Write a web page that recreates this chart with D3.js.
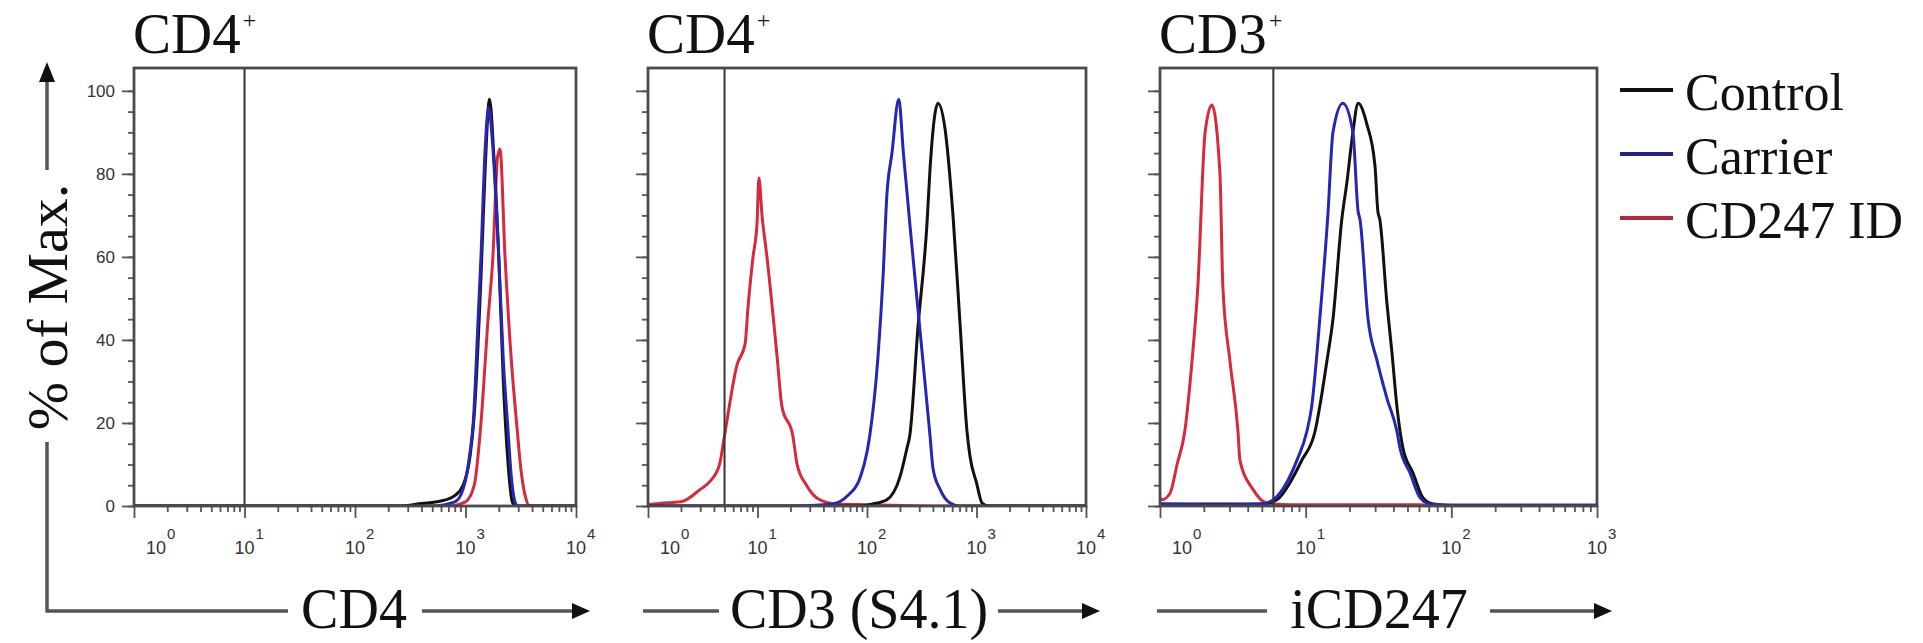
<!DOCTYPE html>
<html lang="en">
<head>
    <meta charset="UTF-8">
    <script src="https://d3js.org/d3.v7.min.js"></script>
    <title>CD247 histograms</title>
    <style>
      body { margin: 0; background: #fff; }
      #container { width: 1923px; height: 643px; }
    </style>
</head>
<body>
    <div id="container"></div>
</body>
<script>
    // titles, axis names, legend
    var panelTitles = ["CD4", "CD4", "CD3"];
    var axisLabels = ["CD4", "CD3 (S4.1)", "iCD247"];
    var seriesNames = ["Control", "Carrier", "CD247 ID"];
    var xMaxExp = [4, 4, 3];           // last decade of each x axis
    var gateValues = [10, 5, 6];       // vertical gate line
    var yTicks = [0, 20, 40, 60, 80, 100];

    // panel 1 : CD4 (intensity, % of max)
    var cd4Control = [[1,0],[250,0],[400,0.6],[600,1.2],[800,2.5],[950,5],[1100,12],[1200,22],[1380,55],[1500,80],[1650,98],[1800,85],[2000,60],[2200,30],[2400,12],[2650,1],[2800,0],[10000,0]];
    var cd4Carrier = [[1,0],[500,0],[800,1],[950,4],[1100,13],[1175,20],[1300,45],[1380,60],[1500,85],[1620,96],[1750,88],[2000,60],[2200,35],[2400,20],[2600,7],[2850,0.5],[3000,0],[10000,0]];
    var cd4Id = [[1,0],[700,0],[1000,1],[1200,5],[1380,20],[1600,45],[1770,60],[1950,84],[2050,86],[2280,60],[2600,35],[2900,20],[3200,8],[3500,2],[3800,0],[10000,0]];

    // panel 2 : CD3 (S4.1)
    var cd3Control = [[1,0],[80,0],[113,0.5],[152,1.5],[200,7],[232,14],[246,17],[292,43],[353,68],[376,81],[445,97],[515,91],[610,70],[707,44],[819,18],[872,12],[1000,5.6],[1125,0.7],[1300,0],[10000,0]];
    var cd3Carrier = [[1,0],[20,0],[40,0.3],[49,0.5],[66,2.4],[87,7],[100,13],[106,17],[126,36],[140,55],[152,75],[169,85],[195,98],[215,85],[246,68],[303,43],[376,17],[401,9],[465,4],[574,0.7],[700,0],[10000,0]];
    var cd3Id = [[1,0.3],[1.5,0.8],[2,1],[3,4],[3.7,6],[4.5,10],[5,17],[6.5,34],[7.7,39],[8.2,48],[9.1,60],[9.9,68],[10.3,79],[11,70],[12.2,60],[15.1,36],[16.7,24],[21,17],[23,10],[28,5],[37,1.5],[53,0.5],[100,0.3],[600,0],[10000,0]];

    // panel 3 : iCD247
    var zetaControl = [[1,0.5],[5,0.5],[6.35,1.5],[7.8,5.6],[9.4,11],[11.6,18],[12.5,24],[14,35],[15.4,45],[17.7,69],[19.2,78],[21.1,90],[22.9,97],[26.3,92],[29.9,82],[31.3,71],[32.3,69],[36.1,49],[39.1,37],[42.3,24],[46.5,14],[54.5,8],[63.8,2],[74.8,0.5],[100,0.2],[1000,0.2]];
    var zetaCarrier = [[1,0.5],[3,0.3],[5,0.5],[6,1.5],[7.4,5.6],[8.7,11],[10.2,18],[11,24],[12.5,45],[14.2,70],[15.4,90],[18,97],[21.1,90],[22.9,71],[23.6,69],[26.8,45],[30.9,35],[36.1,26],[42.3,18],[44.4,14],[52,8],[61,2],[71,0.5],[100,0.2],[1000,0.2]];
    var zetaId = [[1,2],[1.03,1.5],[1.17,3],[1.31,10],[1.48,18],[1.66,35],[1.82,53],[2.04,90],[2.27,96.6],[2.58,80],[2.7,53],[3.02,35],[3.43,18],[3.54,11],[4.35,4],[5.4,0.7],[8,0.3],[60,0.3],[100,0],[1000,0]];

    var panelSeries = [
        [cd4Id, cd4Control, cd4Carrier],
        [cd3Id, cd3Control, cd3Carrier],
        [zetaId, zetaControl, zetaCarrier]
    ];
    var drawOrder = ["CD247 ID", "Control", "Carrier"];

    // styles / layout
    var color = {"Control": "#111111", "Carrier": "#2626b4", "CD247 ID": "#d62a3c"};
    var legendColor = {"Control": "#111111", "Carrier": "#242488", "CD247 ID": "#b4283a"};
    var frames = [{left: 134, right: 576}, {left: 648, right: 1086}, {left: 1160, right: 1597}];
    var plotTop = 68, plotBottom = 506, yMax = 105.5;
    var arrows = [
        {from: 47, lineEnd: 288, textX: 354, lineStart: 422, tip: 590},
        {from: 643, lineEnd: 719, textX: 859, lineStart: 998, tip: 1100},
        {from: 1157, lineEnd: 1267, textX: 1379, lineStart: 1490, tip: 1612}
    ];
    var arrowY = 611;
    var serif = "'Liberation Serif', 'Times New Roman', serif";
    var sans = "'Liberation Sans', Arial, sans-serif";

    var svg = d3.select('#container')
                .append("svg")
                .attr("width", 1923)
                .attr("height", 643);

    var defs = svg.append("defs");

    panelSeries.forEach(function(series, i) {
        var L = frames[i].left, R = frames[i].right;
        var x = d3.scaleLog().domain([1, Math.pow(10, xMaxExp[i])]).range([L, R]);
        var y = d3.scaleLinear().domain([0, yMax]).range([plotBottom, plotTop]);
        var g = svg.append("g");

        // minor / major ticks
        var decades = d3.range(0, xMaxExp[i] + 1).map(function(e){ return Math.pow(10, e); });
        var minor = [];
        d3.range(0, xMaxExp[i]).forEach(function(e){
            for (var m = 2; m < 10; m++) minor.push(m * Math.pow(10, e));
        });
        var xMinor = g.append("g").attr("transform", "translate(0," + plotBottom + ")")
            .call(d3.axisBottom(x).tickValues(minor).tickSize(6).tickFormat(""));
        var xMajor = g.append("g").attr("transform", "translate(0," + plotBottom + ")")
            .call(d3.axisBottom(x).tickValues(decades).tickSize(12).tickFormat(""));

        var yMinorVals = d3.range(0, 101, 5);
        var yMinor = g.append("g").attr("transform", "translate(" + L + ",0)")
            .call(d3.axisLeft(y).tickValues(yMinorVals).tickSize(6).tickFormat(""));
        var yMajor = g.append("g").attr("transform", "translate(" + L + ",0)")
            .call(d3.axisLeft(y).tickValues(yTicks).tickSize(12).tickPadding(7)
                .tickFormat(i === 0 ? d3.format("d") : function(){ return ""; }));

        [xMinor, xMajor, yMinor, yMajor].forEach(function(a){
            a.select(".domain").remove();
            a.selectAll(".tick line").attr("stroke", "#555").attr("stroke-width", 1.8);
        });
        yMajor.selectAll(".tick text")
            .style("font-family", sans).style("font-size", "17px").attr("fill", "#333");

        // decade labels 10^n
        decades.forEach(function(v, e) {
            var cx = x(v) + (e === 0 ? 22 : 0);
            var t = g.append("text")
                .attr("x", cx - 10)
                .attr("y", 554)
                .style("font-family", sans)
                .style("font-size", "18px")
                .attr("fill", "#333")
                .text("10");
            t.append("tspan")
                .attr("dx", 1)
                .attr("dy", -15)
                .style("font-size", "15px")
                .text(e);
        });

        // clip + curves
        defs.append("clipPath").attr("id", "clip" + i)
            .append("rect").attr("x", L).attr("y", plotTop).attr("width", R - L).attr("height", plotBottom - plotTop);

        var line = d3.line()
            .x(function(d){ return x(d[0]); })
            .y(function(d){ return y(d[1]); })
            .curve(d3.curveMonotoneX);

        var curves = g.append("g").attr("clip-path", "url(#clip" + i + ")");
        curves.selectAll("path")
            .data(series)
            .enter()
            .append("path")
            .attr("d", line)
            .attr("fill", "none")
            .attr("stroke", function(d, k){ return color[drawOrder[k]]; })
            .attr("stroke-width", 3)
            .attr("stroke-linejoin", "round");

        // gate line
        g.append("line")
            .attr("x1", x(gateValues[i])).attr("x2", x(gateValues[i]))
            .attr("y1", plotTop).attr("y2", plotBottom)
            .attr("stroke", "#333").attr("stroke-width", 2);

        // frame
        g.append("rect")
            .attr("x", L).attr("y", plotTop)
            .attr("width", R - L).attr("height", plotBottom - plotTop)
            .attr("fill", "none").attr("stroke", "#4a4a4a").attr("stroke-width", 2.8);

        // title
        var title = g.append("text")
            .attr("x", L - 1).attr("y", 53)
            .style("font-family", serif).style("font-size", "57px")
            .attr("fill", "#111")
            .text(panelTitles[i]);
        title.append("tspan").attr("dx", 2).attr("dy", -25)
            .style("font-size", "24px").text("+");

        // bottom axis name with arrow
        var a = arrows[i];
        g.append("line").attr("x1", a.from).attr("x2", a.lineEnd)
            .attr("y1", arrowY).attr("y2", arrowY)
            .attr("stroke", "#555").attr("stroke-width", 3.5);
        g.append("line").attr("x1", a.lineStart).attr("x2", a.tip - 14)
            .attr("y1", arrowY).attr("y2", arrowY)
            .attr("stroke", "#555").attr("stroke-width", 3.5);
        g.append("path")
            .attr("d", "M" + a.tip + "," + arrowY + "L" + (a.tip - 18) + "," + (arrowY - 8) +
                       "L" + (a.tip - 18) + "," + (arrowY + 8) + "Z")
            .attr("fill", "#111");
        g.append("text")
            .attr("x", a.textX).attr("y", 628)
            .attr("text-anchor", "middle")
            .style("font-family", serif).style("font-size", "56px")
            .attr("fill", "#111")
            .text(axisLabels[i]);
    });

    // y axis name with arrow
    var ya = svg.append("g");
    ya.append("line").attr("x1", 47).attr("x2", 47).attr("y1", arrowY + 1.5).attr("y2", 442)
        .attr("stroke", "#555").attr("stroke-width", 3.5);
    ya.append("line").attr("x1", 47).attr("x2", 47).attr("y1", 170).attr("y2", 80)
        .attr("stroke", "#555").attr("stroke-width", 3.5);
    ya.append("path").attr("d", "M47,62L39,82L55,82Z").attr("fill", "#111");
    ya.append("text")
        .attr("transform", "translate(67,307) rotate(-90)")
        .attr("text-anchor", "middle")
        .style("font-family", serif).style("font-size", "58px")
        .attr("fill", "#111")
        .text("% of Max.");

    // legend
    var legend = svg.append("g").selectAll("g")
        .data(seriesNames)
        .enter()
        .append("g")
        .attr("transform", function(d, k){ return "translate(0," + (90 + k * 64) + ")"; });
    legend.append("line")
        .attr("x1", 1620).attr("x2", 1673).attr("y1", 0).attr("y2", 0)
        .attr("stroke", function(d){ return legendColor[d]; })
        .attr("stroke-width", 4);
    legend.append("text")
        .attr("x", 1685).attr("y", 20)
        .style("font-family", serif).style("font-size", "52px")
        .attr("fill", "#111")
        .text(function(d){ return d; });
</script>
</html>
